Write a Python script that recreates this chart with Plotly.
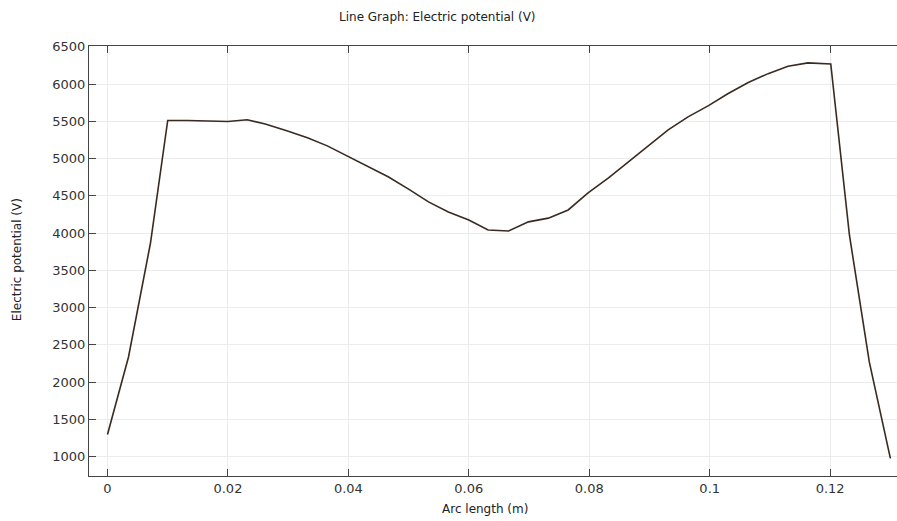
import plotly.graph_objects as go

arc_length = [0.0, 0.00349, 0.00714, 0.0100, 0.0133, 0.0166, 0.0200, 0.0232, 0.0262,
              0.0299, 0.0332, 0.0365, 0.0398, 0.0433, 0.0466, 0.0500, 0.0533, 0.0566,
              0.0600, 0.0632, 0.0666, 0.0699, 0.0732, 0.0765, 0.0798, 0.0832, 0.0865,
              0.0898, 0.0931, 0.0964, 0.0998, 0.1030, 0.1064, 0.1097, 0.1130, 0.1163,
              0.1201, 0.1232, 0.1265, 0.1300]
potential = [1296, 2336, 3866, 5511, 5510, 5505, 5498, 5520, 5465,
             5370, 5280, 5170, 5035, 4900, 4755, 4590, 4418, 4283,
             4175, 4040, 4027, 4150, 4200, 4310, 4540, 4740, 4956,
             5170, 5385, 5560, 5710, 5870, 6020, 6140, 6238, 6284,
             6270, 3974, 2269, 975]

x_ticks = [0, 0.02, 0.04, 0.06, 0.08, 0.1, 0.12]
x_tick_labels = ["0", "0.02", "0.04", "0.06", "0.08", "0.1", "0.12"]
y_ticks = [1000, 1500, 2000, 2500, 3000, 3500, 4000, 4500, 5000, 5500, 6000, 6500]

font = "DejaVu Sans, Verdana, sans-serif"

fig = go.Figure()
fig.add_trace(go.Scatter(x=arc_length, y=potential, mode="lines",
                         line=dict(color="#3a2a20", width=1.6), showlegend=False))

axis_common = dict(showline=True, linecolor="#444", linewidth=1.2,
                   ticks="inside", ticklen=7, tickcolor="#444", tickwidth=1.2,
                   showgrid=True, gridcolor="#ececec", gridwidth=1, zeroline=False,
                   tickfont=dict(family=font, size=13, color="#333"))

fig.update_xaxes(range=[-0.00307, 0.1311], tickvals=x_ticks, ticktext=x_tick_labels,
                 mirror="ticks", **axis_common)
fig.update_yaxes(range=[738, 6511], tickvals=y_ticks, mirror=False, **axis_common)

fig.update_layout(
    width=897, height=521,
    margin=dict(l=89, r=0, t=46, b=45),
    plot_bgcolor="white", paper_bgcolor="white",
    font=dict(family=font, size=12, color="#222"),
    annotations=[
        dict(text="Line Graph: Electric potential (V)", xref="paper", yref="paper",
             x=0.4307, y=1.0664, showarrow=False, xanchor="center", yanchor="middle",
             font=dict(family=font, size=12, color="#222")),
        dict(text="Electric potential (V)", xref="paper", yref="paper",
             x=-0.0891, y=0.502, showarrow=False, textangle=-90,
             xanchor="center", yanchor="middle",
             font=dict(family=font, size=12, color="#222")),
        dict(text="Arc length (m)", xref="paper", yref="paper",
             x=0.490, y=-0.0758, showarrow=False, xanchor="center", yanchor="middle",
             font=dict(family=font, size=12, color="#222")),
    ],
)

fig.write_html("out.html")
